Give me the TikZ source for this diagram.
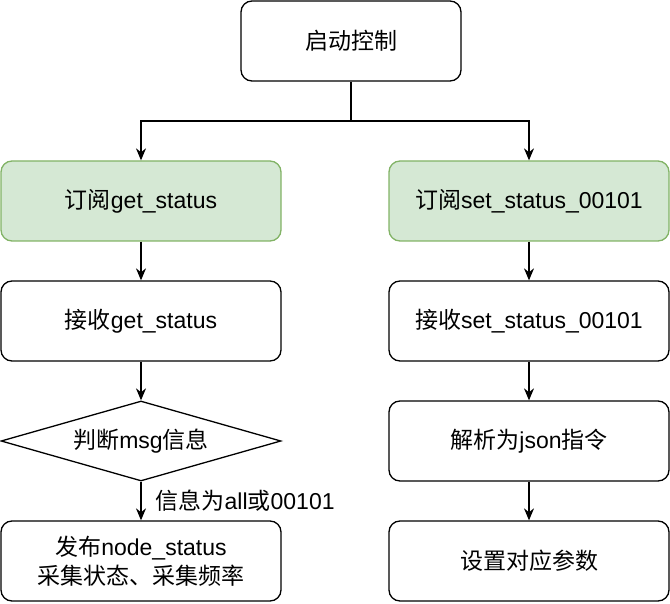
\documentclass[tikz,border=0pt]{standalone}
\usepackage{fontspec}
\setmainfont{Liberation Sans}
\newfontfamily\cjk{Noto Sans CJK SC}
\usepackage{xcolor}
\usetikzlibrary{shapes.geometric,arrows.meta}
\definecolor{subfill}{HTML}{D5E8D4}
\definecolor{subline}{HTML}{82B366}

\begin{document}
\begin{tikzpicture}[x=1pt, y=-1pt,
  box/.style={draw=black, line width=1.3pt, rounded corners=11pt, minimum width=280pt, minimum height=80pt, inner sep=0pt, align=center, font=\fontsize{23}{29}\selectfont},
  subbox/.style={box, fill=subfill, draw=subline},
  decision/.style={diamond, draw=black, line width=1.3pt, aspect=3.5, minimum width=280pt, minimum height=80pt, inner sep=0pt, font=\fontsize{23}{29}\selectfont},
  flow/.style={line width=1.3pt, -{Stealth[length=12pt, width=10pt]}}]
  \useasboundingbox (0,0) rectangle (670,604);
  % left branch
  \node[box, minimum width=220pt] (start) at (351,41) {{\cjk 启动控制}};
  \node[subbox] (subget) at (141,201) {{\cjk 订阅}get\_status};
  \node[box] (recvget) at (141,321) {{\cjk 接收}get\_status};
  \node[decision] (judge) at (141,441) {{\cjk 判断}msg{\cjk 信息}};
  \node[box] (publish) at (141,561) {{\cjk 发布}node\_status\\{\cjk 采集状态、采集频率}};
  % right branch
  \node[subbox] (subset) at (529,201) {{\cjk 订阅}set\_status\_00101};
  \node[box] (recvset) at (529,321) {{\cjk 接收}set\_status\_00101};
  \node[box] (parse) at (529,441) {{\cjk 解析为}json{\cjk 指令}};
  \node[box] (setparam) at (529,561) {{\cjk 设置对应参数}};
  \coordinate (split) at (351,121);
  \draw[line width=1.3pt] (start) -- (split);
  \draw[flow] (split) -| (subget);
  \draw[flow] (split) -| (subset);
  \draw[flow] (subget) -- (recvget);
  \draw[flow] (recvget) -- (judge);
  \draw[flow] (judge) -- node[anchor=west, xshift=12pt, inner sep=2pt, font=\fontsize{23}{29}\selectfont] {{\cjk 信息为}all{\cjk 或}00101} (publish);
  \draw[flow] (subset) -- (recvset);
  \draw[flow] (recvset) -- (parse);
  \draw[flow] (parse) -- (setparam);
\end{tikzpicture}
\end{document}
